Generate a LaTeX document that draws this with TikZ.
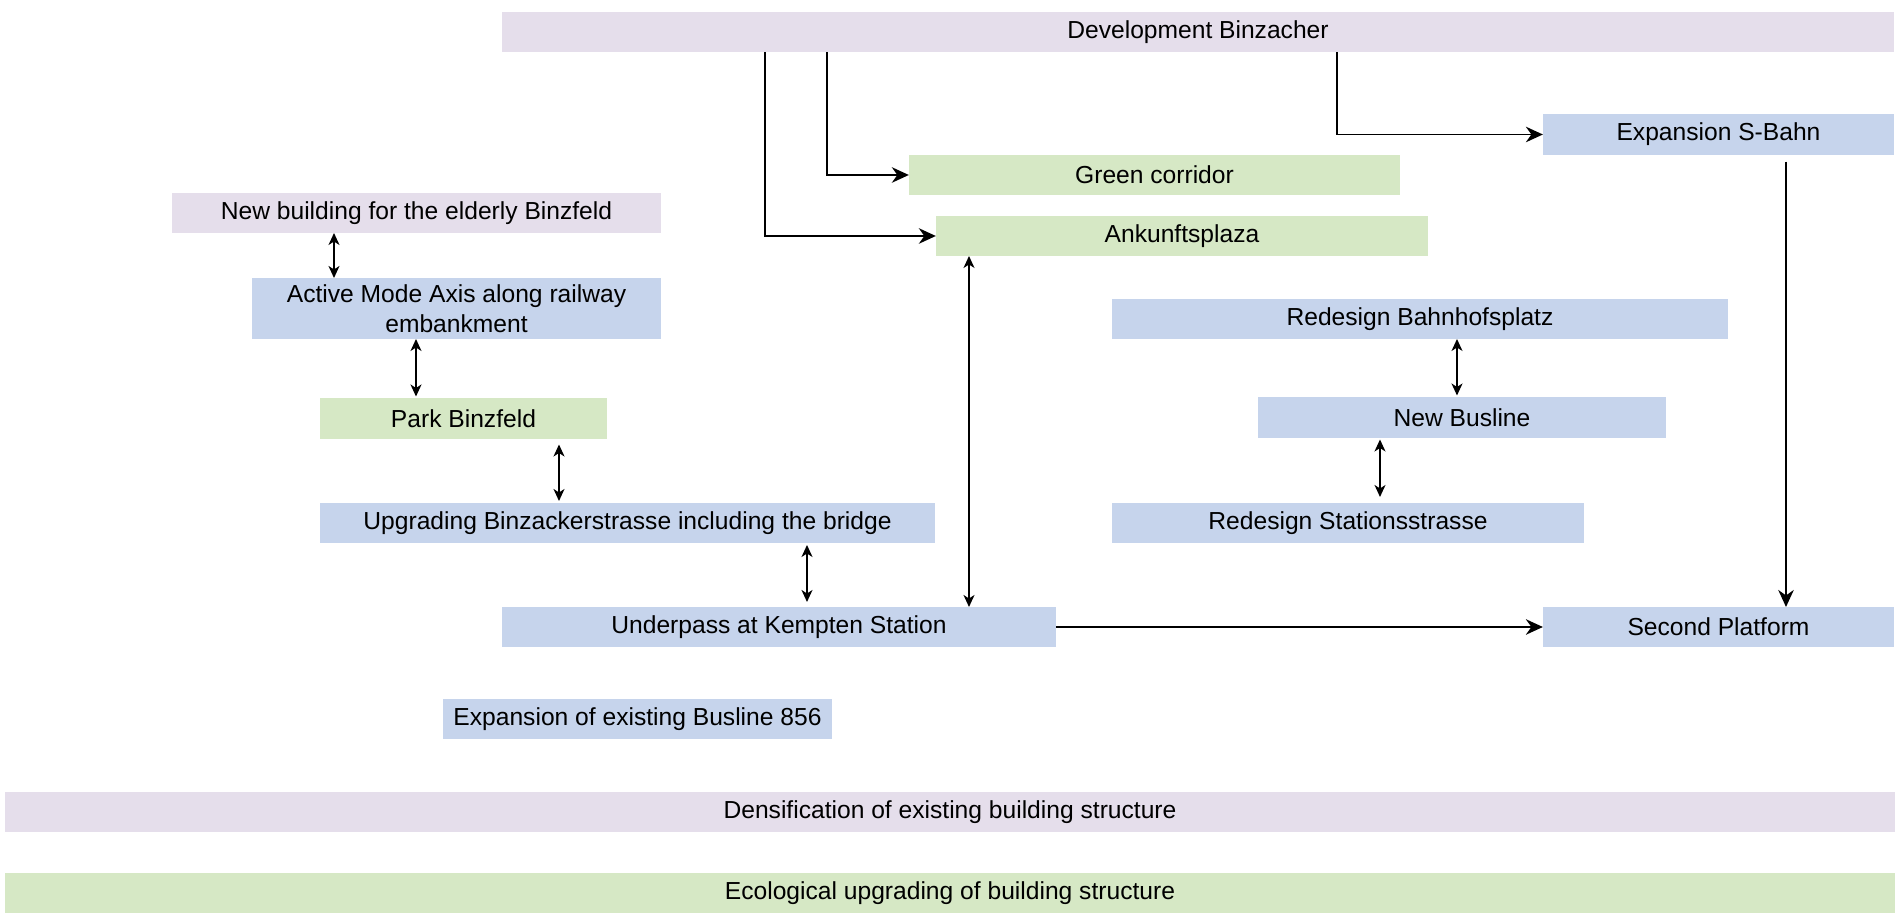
\documentclass[tikz,border=0pt]{standalone}
\usepackage{fontspec}
\setmainfont{Liberation Sans}
\usetikzlibrary{arrows.meta}
\definecolor{cpurple}{HTML}{E5DEEB}
\definecolor{cblue}{HTML}{C6D4EC}
\definecolor{cgreen}{HTML}{D6E8C5}
\tikzset{
  boxbase/.style={inner sep=0pt, outer sep=0pt, minimum height=0.4cm, align=center, font=\fontsize{7}{8.6}\selectfont},
  pbox/.style={boxbase, fill=cpurple},
  bbox/.style={boxbase, fill=cblue},
  gbox/.style={boxbase, fill=cgreen},
  mainarrow/.style={line width=0.55pt, -{Stealth[length=1.7mm, width=1.55mm, inset=0.55mm]}},
  dblarrow/.style={line width=0.4pt, {Stealth[length=1.2mm, width=1.1mm, inset=0.35mm]}-{Stealth[length=1.2mm, width=1.1mm, inset=0.35mm]}}
}
\begin{document}
\begin{tikzpicture}[x=0.01cm, y=-0.01cm]
\useasboundingbox (0,0) rectangle (1896,916);
\node[pbox, minimum width=13.92cm] (dev) at (1198,32) {Development Binzacher};
\node[bbox, minimum width=3.51cm] (sbahn) at (1718.5,134.5) {Expansion S-Bahn};
\node[gbox, minimum width=4.91cm] (green) at (1154.5,175) {Green corridor};
\node[gbox, minimum width=4.92cm] (ank) at (1182,236) {Ankunftsplaza};
\node[pbox, minimum width=4.89cm] (newb) at (416.5,213) {New building for the elderly Binzfeld};
\node[bbox, minimum width=4.09cm, minimum height=0.61cm] (active) at (456.5,308.5) {Active Mode Axis along railway\\embankment};
\node[gbox, minimum width=2.87cm] (park) at (463.5,418.5) {Park Binzfeld};
\node[bbox, minimum width=6.15cm] (upg) at (627.5,523) {Upgrading Binzackerstrasse including the bridge};
\node[bbox, minimum width=5.54cm] (under) at (779,627) {Underpass at Kempten Station};
\node[bbox, minimum width=3.51cm] (second) at (1718.5,627) {Second Platform};
\node[bbox, minimum width=6.16cm] (bahnhof) at (1420,319) {Redesign Bahnhofsplatz};
\node[bbox, minimum width=4.08cm] (newbus) at (1462,417.5) {New Busline};
\node[bbox, minimum width=4.72cm] (station) at (1348,523) {Redesign Stationsstrasse};
\node[bbox, minimum width=3.89cm] (bus856) at (637.5,719) {Expansion of existing Busline 856};
\node[pbox, minimum width=18.88cm] (dens) at (950,812) {Densification of existing building structure};
\node[gbox, minimum width=18.88cm] (eco) at (950,893) {Ecological upgrading of building structure};
% helper columns
\coordinate (cgreen) at (827,0);
\coordinate (cank) at (765,0);
\coordinate (csbahn) at (1337,0);
\coordinate (csecond) at (1786,0);
\coordinate (cau) at (969,0);
\coordinate (cna) at (334,0);
\coordinate (cap) at (416,0);
\coordinate (cpu) at (559,0);
\coordinate (cuu) at (807,0);
\coordinate (cbn) at (1457,0);
\coordinate (cns) at (1380,0);
% main arrows
\draw[mainarrow] (dev.south -| cgreen) |- (green.west);
\draw[mainarrow] (dev.south -| cank) |- (ank.west);
\draw[mainarrow] (dev.south -| csbahn) |- (sbahn.west);
\draw[mainarrow, shorten <=0.7mm] (sbahn.south -| csecond) -- (second.north -| csecond);
\draw[mainarrow] (under.east) -- (second.west);
% double arrows
\draw[dblarrow] (ank.south -| cau) -- (under.north -| cau);
\draw[dblarrow] (newb.south -| cna) -- (active.north -| cna);
\draw[dblarrow, shorten >=0.2mm] (active.south -| cap) -- (park.north -| cap);
\draw[dblarrow, shorten <=0.6mm, shorten >=0.2mm] (park.south -| cpu) -- (upg.north -| cpu);
\draw[dblarrow, shorten <=0.2mm, shorten >=0.5mm] (upg.south -| cuu) -- (under.north -| cuu);
\draw[dblarrow, shorten >=0.2mm] (bahnhof.south -| cbn) -- (newbus.north -| cbn);
\draw[dblarrow, shorten <=0.2mm, shorten >=0.6mm] (newbus.south -| cns) -- (station.north -| cns);
\end{tikzpicture}
\end{document}
